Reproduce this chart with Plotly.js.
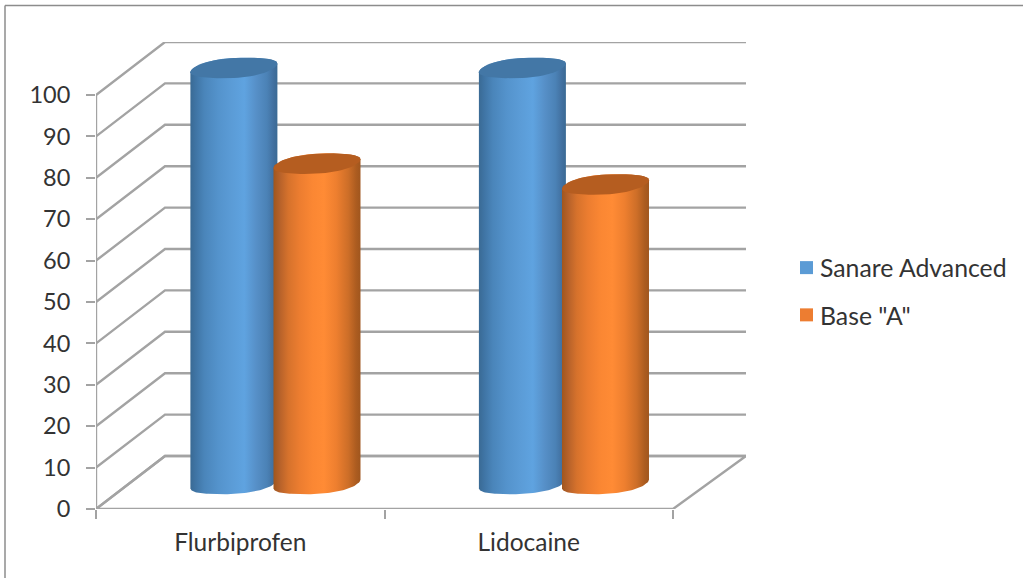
<!DOCTYPE html>
<html>
<head>
<meta charset="utf-8">
<script src="https://cdn.plot.ly/plotly-3.0.1.min.js"></script>
<style>html,body{margin:0;padding:0;background:#fff}#chart{width:1023px;height:578px}</style>
</head>
<body>
<div id="chart"></div>
<script>
const categories = ['Flurbiprofen', 'Lidocaine'];
const sanareAdvanced = [100, 100];
const baseA = [77, 72];
const valueTicks = [0, 10, 20, 30, 40, 50, 60, 70, 80, 90, 100];

// Pixel geometry of the pseudo-3D box; everything below is converted into axis units.
const W = 1023, H = 578;
const M = {l: 96, r: 277, t: 42, b: 69};
const pxPerCat = 288.5, pxPerVal = 4.14;
const xMax = (W - M.l - M.r) / pxPerCat;
const yMax = (H - M.t - M.b) / pxPerVal;
const depthX = 69 / pxPerCat, depthY = 53 / pxPerVal;

const gridColor = '#a3a3a3';
const traces = [];

function gridLine(xs, ys) {
  traces.push({type: 'scatter', mode: 'lines', x: xs, y: ys, cliponaxis: false,
    line: {color: gridColor, width: 2.4}, hoverinfo: 'skip', showlegend: false});
}

// Side wall and back wall grid lines
valueTicks.forEach(v => gridLine([0, depthX, xMax], [v, v + depthY, v + depthY]));
// Floor outline and the upright value axis
gridLine([0, categories.length, xMax, depthX, 0], [0, 0, depthY, depthY, 0]);
gridLine([0, 0], [0, 100]);

// Cylinder shape: tilted elliptical caps, slightly fuller near the ends than a plain sheared ellipse
const halfW = 43.5 / pxPerCat, capB = 10 / pxPerVal;
const tiltA = 2.4 / pxPerVal, tiltB = 1.9 / pxPerVal;
const baseLift = 25 / pxPerVal, heightScale = 1.005;
const capN = 64;

function cap(cx, cy, from, to) {
  const xs = [], ys = [];
  for (let i = 0; i <= capN; i++) {
    const t = from + (to - from) * i / capN;
    const c = Math.cos(t);
    xs.push(cx + halfW * c);
    ys.push(cy + tiltA * c + tiltB * c * c * c + capB * Math.sin(t));
  }
  return [xs, ys];
}

function cylinder(name, cx, value, stops, capColor) {
  const yBase = baseLift, yTop = baseLift + value * heightScale;
  // Body: the lower half of the base ellipse, then back across the top ellipse
  const low = cap(cx, yBase, Math.PI, 2 * Math.PI);
  const high = cap(cx, yTop, 0, Math.PI);
  traces.push({type: 'scatter', mode: 'lines', name, cliponaxis: false,
    x: low[0].concat(high[0]),
    y: low[1].concat(high[1]),
    fill: 'toself', fillgradient: {type: 'horizontal', colorscale: stops},
    line: {width: 0}, hoverinfo: 'skip', showlegend: false});
  const top = cap(cx, yTop, 0, 2 * Math.PI);
  traces.push({type: 'scatter', mode: 'lines', name, cliponaxis: false,
    x: top[0], y: top[1], fill: 'toself', fillcolor: capColor,
    line: {width: 0}, hoverinfo: 'skip', showlegend: false});
}

const blueStops = [[0, '#3a6a94'], [0.06, '#3f74a4'], [0.16, '#4a85ba'], [0.32, '#5493cc'], [0.48, '#5b9cd7'], [0.62, '#5fa3e0'], [0.76, '#568fc7'], [0.88, '#4b82b6'], [0.96, '#416f9e'], [1, '#3a6a94']];
const orangeStops = [[0, '#a0561e'], [0.07, '#b5612a'], [0.17, '#d6722c'], [0.3, '#ec7d30'], [0.45, '#fb8733'], [0.58, '#ff8b35'], [0.72, '#ee7f2f'], [0.86, '#cd6e28'], [0.95, '#ac5c20'], [1, '#a0561e']];
const blueCap = '#4377a6', orangeCap = '#b55d20';

categories.forEach((_, i) => {
  cylinder('Sanare Advanced', i + 0.478, sanareAdvanced[i], blueStops, blueCap);
  cylinder('Base "A"', i + 0.766, baseA[i], orangeStops, orangeCap);
});

// Legend entries
[['Sanare Advanced', '#5b9bd5'], ['Base "A"', '#ed7d31']].forEach(([name, color]) => {
  traces.push({type: 'scatter', mode: 'markers', name, x: [null], y: [null], legendgroup: name,
    marker: {symbol: 'square', size: 13, color}, hoverinfo: 'skip', showlegend: true});
});

const textFont = {family: 'Lato, sans-serif', size: 24.5, color: '#333333'};
const valueFont = {family: 'Lato, sans-serif', size: 23.5, color: '#333333'};
const legendFont = {family: 'Lato, sans-serif', size: 24.8, color: '#333333'};
const pw = W - M.l - M.r, ph = H - M.t - M.b;
const layout = {
  width: W, height: H, margin: M, paper_bgcolor: '#fff', plot_bgcolor: 'rgba(0,0,0,0)',
  font: textFont, hovermode: false,
  xaxis: {type: 'linear', range: [0, xMax], showgrid: false, zeroline: false, showline: false,
    tickmode: 'array', tickvals: categories.map((_, i) => i + 0.5), ticktext: categories,
    ticks: '', ticklabelstandoff: 16, tickfont: textFont,
    minor: {tickmode: 'array', tickvals: [0, 1, 2], ticks: 'outside', ticklen: 9, tickwidth: 2, tickcolor: gridColor, showgrid: false}},
  yaxis: {type: 'linear', range: [0, yMax], showgrid: false, zeroline: false, showline: false,
    tickmode: 'array', tickvals: valueTicks, ticks: 'outside', ticklen: 9, tickwidth: 2, tickcolor: gridColor,
    ticklabelstandoff: 11, tickfont: valueFont},
  legend: {xref: 'container', yref: 'container', x: 780 / W, y: 1 - 245 / H, xanchor: 'left', yanchor: 'top',
    font: legendFont, tracegroupgap: 12,
    bgcolor: 'rgba(0,0,0,0)', itemclick: false, itemdoubleclick: false},
  shapes: [
    {type: 'line', xref: 'paper', yref: 'paper', x0: (5 - M.l) / pw, x1: (W - M.l) / pw,
      y0: (H - M.b - 5.5) / ph, y1: (H - M.b - 5.5) / ph, line: {color: '#8c8c8c', width: 1.5}},
    {type: 'line', xref: 'paper', yref: 'paper', x0: (5 - M.l) / pw, x1: (5 - M.l) / pw,
      y0: (H - M.b - 5.5) / ph, y1: (H - M.b - H) / ph, line: {color: '#8c8c8c', width: 1.5}}
  ]
};

Plotly.newPlot('chart', traces, layout, {displayModeBar: false, staticPlot: true}).then(gd => {
  // Sit the legend swatches closer to their labels than the default item gap
  gd.querySelectorAll('.legend .legendpoints').forEach(g => g.setAttribute('transform', 'translate(6.5,0)'));
});
</script>
</body>
</html>
